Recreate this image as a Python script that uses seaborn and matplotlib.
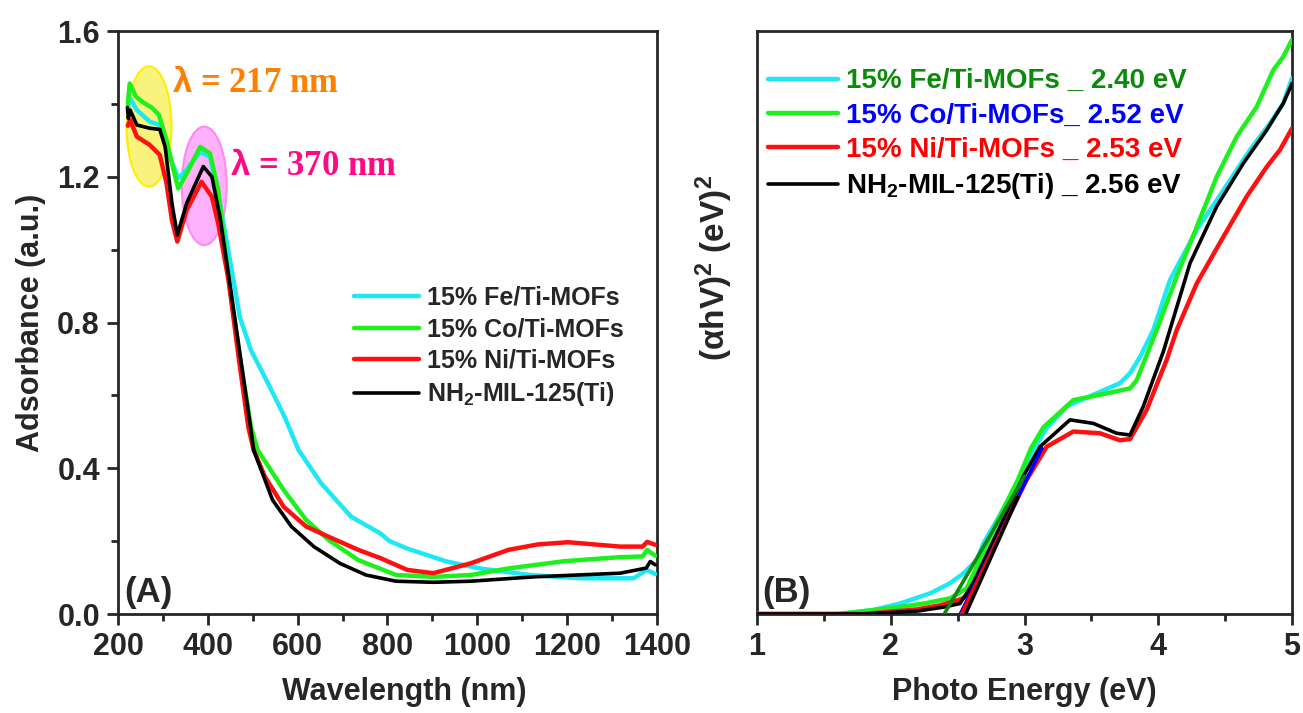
import matplotlib
matplotlib.use('Agg')
import matplotlib.pyplot as plt
import seaborn as sns
from matplotlib.patches import Ellipse
from matplotlib.ticker import MultipleLocator

# ---- panel A: UV-vis absorbance ----
fe_nm = [222, 227, 242, 271, 293, 308, 320, 334, 353, 383, 405, 427, 457, 471, 496,
         534, 571, 602, 652, 719, 783, 805, 843, 932, 1006, 1118, 1229, 1348, 1377, 1396]
fe_abs = [1.39, 1.415, 1.383, 1.351, 1.342, 1.292, 1.24, 1.196, 1.22, 1.268, 1.255, 1.127, 0.917, 0.816, 0.724,
          0.633, 0.541, 0.45, 0.359, 0.267, 0.222, 0.2, 0.18, 0.144, 0.125, 0.107, 0.098, 0.098, 0.121, 0.11]

co_nm = [222, 226, 240, 256, 275, 291, 308, 320, 334, 353, 383, 405, 423, 447, 472,
         496, 511, 569, 619, 669, 735, 819, 902, 985, 1069, 1194, 1318, 1368, 1378, 1396]
co_abs = [1.40, 1.456, 1.42, 1.404, 1.39, 1.37, 1.30, 1.237, 1.168, 1.209, 1.282, 1.264, 1.164, 0.91, 0.70,
          0.514, 0.45, 0.34, 0.258, 0.203, 0.148, 0.107, 0.102, 0.107, 0.125, 0.145, 0.156, 0.158, 0.176, 0.16]

ni_nm = [222, 227, 242, 271, 293, 308, 320, 332, 353, 386, 409, 423, 446, 468, 490, 502,
         527, 569, 619, 669, 735, 785, 844, 902, 985, 1069, 1135, 1202, 1318, 1368, 1378, 1396]
ni_abs = [1.34, 1.356, 1.31, 1.287, 1.26, 1.182, 1.081, 1.022, 1.109, 1.186, 1.145, 1.072, 0.917, 0.71, 0.514, 0.45,
          0.377, 0.294, 0.24, 0.212, 0.176, 0.153, 0.121, 0.112, 0.139, 0.176, 0.191, 0.197, 0.185, 0.185, 0.198, 0.19]

mil_nm = [221, 223, 227, 242, 271, 293, 305, 320, 332, 353, 390, 409, 427, 449, 472,
          495, 502, 544, 586, 636, 694, 752, 819, 902, 985, 1127, 1318, 1376, 1385, 1396]
mil_abs = [1.39, 1.36, 1.383, 1.342, 1.333, 1.33, 1.282, 1.128, 1.040, 1.128, 1.228, 1.2, 1.09, 0.907, 0.71,
           0.514, 0.45, 0.313, 0.24, 0.185, 0.139, 0.107, 0.09, 0.087, 0.09, 0.102, 0.112, 0.126, 0.144, 0.135]

# ---- panel B: Tauc plot (arbitrary units) ----
fe_ev = [1.0, 1.62, 1.87, 2.07, 2.30, 2.445, 2.545, 2.645, 2.692, 2.817, 2.942, 3.066, 3.166, 3.316,
         3.514, 3.714, 3.789, 3.864, 3.963, 4.088, 4.288, 4.487, 4.686, 4.836, 4.935, 5.0]
fe_tauc = [0.0, 0.0, 0.007, 0.018, 0.036, 0.053, 0.07, 0.093, 0.121, 0.17, 0.224, 0.281, 0.319, 0.356,
           0.376, 0.396, 0.413, 0.441, 0.487, 0.573, 0.659, 0.727, 0.796, 0.842, 0.876, 0.919]

co_ev = [1.0, 1.6, 2.0, 2.25, 2.445, 2.568, 2.65, 2.8, 2.95, 3.05, 3.141, 3.365, 3.564, 3.789,
         3.839, 3.988, 4.138, 4.288, 4.437, 4.587, 4.736, 4.86, 4.935, 5.0]
co_tauc = [0.0, 0.0, 0.01, 0.018, 0.027, 0.044, 0.085, 0.16, 0.23, 0.285, 0.32, 0.367, 0.376, 0.387,
           0.401, 0.487, 0.579, 0.664, 0.75, 0.819, 0.87, 0.933, 0.956, 0.985]

ni_ev = [1.0, 1.8, 2.2, 2.37, 2.52, 2.617, 2.817, 3.016, 3.166, 3.365, 3.564, 3.714, 3.789, 3.913,
         4.063, 4.138, 4.288, 4.487, 4.661, 4.811, 4.91, 5.0]
ni_tauc = [0.0, 0.0, 0.008, 0.015, 0.025, 0.035, 0.138, 0.23, 0.287, 0.313, 0.31, 0.298, 0.30, 0.35,
           0.436, 0.487, 0.567, 0.647, 0.716, 0.767, 0.796, 0.833]

mil_ev = [1.0, 1.8, 2.2, 2.4, 2.518, 2.617, 2.817, 2.991, 3.116, 3.34, 3.514, 3.689, 3.789, 3.888,
          4.038, 4.238, 4.437, 4.636, 4.811, 4.935, 5.0]
mil_tauc = [0.0, 0.0, 0.005, 0.012, 0.018, 0.053, 0.15, 0.236, 0.287, 0.333, 0.327, 0.31, 0.307, 0.356,
            0.45, 0.602, 0.699, 0.773, 0.83, 0.876, 0.91]

# band-gap tangent lines: start on the x axis, end point along the edge
fit_start = [2.40, 2.52, 2.53, 2.56]
fit_end_ev = [3.0, 3.13, 2.95, 2.95]
fit_end_val = [0.236, 0.284, 0.2, 0.2]
fit_colors = ['#0b8a0b', '#0000ff', '#ff0000', '#000000']

labels_a = ['15% Fe/Ti-MOFs', '15% Co/Ti-MOFs', '15% Ni/Ti-MOFs', 'NH$_2$-MIL-125(Ti)']
labels_b = ['15% Fe/Ti-MOFs _ 2.40 eV', '15% Co/Ti-MOFs_ 2.52 eV',
            '15% Ni/Ti-MOFs _ 2.53 eV', 'NH$_2$-MIL-125(Ti) _ 2.56 eV']
line_colors = ['#1ee8f4', '#1ef01e', '#ff1010', '#000000']

sns.set_style('ticks')
plt.rcParams['font.family'] = ['Liberation Sans', 'DejaVu Sans']
plt.rcParams['font.weight'] = 'bold'
plt.rcParams['mathtext.fontset'] = 'custom'
plt.rcParams['mathtext.rm'] = 'Liberation Sans:bold'
plt.rcParams['mathtext.bf'] = 'Liberation Sans:bold'
plt.rcParams['mathtext.it'] = 'Liberation Sans:bold'
plt.rcParams['mathtext.default'] = 'bf'

fig = plt.figure(figsize=(13.03, 7.13), dpi=100)
ax1 = fig.add_axes([118 / 1303, 1 - 614 / 713, 539 / 1303, 583 / 713])
ax2 = fig.add_axes([757 / 1303, 1 - 614 / 713, 535 / 1303, 583 / 713])

# highlight ellipses behind the curves
ax1.add_patch(Ellipse((269, 1.338), 100, 0.33, facecolor='#f9f27c', edgecolor='#ffee00', lw=1.5, zorder=1))
ax1.add_patch(Ellipse((392, 1.175), 100, 0.325, facecolor='#ffb2fb', edgecolor='#ff88f5', lw=1.5, zorder=1))

series_a = [(fe_nm, fe_abs), (co_nm, co_abs), (ni_nm, ni_abs), (mil_nm, mil_abs)]
for (x, y), c, lab in zip(series_a, line_colors, labels_a):
    sns.lineplot(x=x, y=y, ax=ax1, color=c, lw=3.2 if c != '#000000' else 2.6, label=lab, zorder=3)

series_b = [(fe_ev, fe_tauc), (co_ev, co_tauc), (ni_ev, ni_tauc), (mil_ev, mil_tauc)]
for (x, y), c, lab in zip(series_b, line_colors, labels_b):
    sns.lineplot(x=x, y=y, ax=ax2, color=c, lw=3.2 if c != '#000000' else 2.6, label=lab, zorder=3)

for x0, x1, y1, c in zip(fit_start, fit_end_ev, fit_end_val, fit_colors):
    sns.lineplot(x=[x0, x1], y=[0, y1], ax=ax2, color=c, lw=2.6, zorder=4, legend=False)

ax1.text(320, 1.457, r'$\lambda$ = 217 nm', color='#ff8000', fontsize=25, fontweight='bold',
         family='Liberation Serif', va='center', ha='left')
ax1.text(449, 1.227, r'$\lambda$ = 370 nm', color='#ff0a84', fontsize=25, fontweight='bold',
         family='Liberation Serif', va='center', ha='left')

ax1.set_xlim(200, 1400)
ax1.set_ylim(0, 1.6)
ax1.xaxis.set_major_locator(MultipleLocator(200))
ax1.xaxis.set_minor_locator(MultipleLocator(100))
ax1.yaxis.set_major_locator(MultipleLocator(0.4))
ax1.yaxis.set_minor_locator(MultipleLocator(0.2))
ax1.yaxis.set_major_formatter(matplotlib.ticker.FormatStrFormatter('%.1f'))
ax1.set_xlabel('Wavelength (nm)', fontsize=22, fontweight='bold')
ax1.set_ylabel('Adsorbance (a.u.)', fontsize=22, fontweight='bold', labelpad=8)
ax1.xaxis.set_label_coords(0.532, -0.108)

ax2.set_xlim(1, 5)
ax2.set_ylim(0, 1.0)
ax2.xaxis.set_major_locator(MultipleLocator(1))
ax2.xaxis.set_minor_locator(MultipleLocator(0.5))
ax2.set_yticks([])
ax2.set_xlabel('Photo Energy (eV)', fontsize=22, fontweight='bold')
ax2.xaxis.set_label_coords(0.5, -0.108)
ax2.set_ylabel('(\u03b1hV)$^2$ (eV)$^2$', fontsize=24, fontweight='bold')
ax2.yaxis.set_label_coords(-0.041, 0.593)

for ax in (ax1, ax2):
    for sp in ax.spines.values():
        sp.set_visible(True)
        sp.set_linewidth(2.0)
    ax.tick_params(which='major', length=8, width=2, labelsize=22, pad=5)
    ax.tick_params(which='minor', length=5, width=2)
    for t in ax.get_xticklabels() + ax.get_yticklabels():
        t.set_fontweight('bold')

ax1.text(0.012, 0.008, '(A)', transform=ax1.transAxes, fontsize=25, fontweight='bold', ha='left', va='bottom')
ax2.text(0.01, 0.008, '(B)', transform=ax2.transAxes, fontsize=25, fontweight='bold', ha='left', va='bottom')

leg1 = ax1.legend(loc='upper left', bbox_to_anchor=(0.42, 0.58), frameon=False, fontsize=18,
                  handlelength=2.6, handletextpad=0.3, labelspacing=0.3, borderaxespad=0)
for t in leg1.get_texts():
    t.set_fontweight('bold')

leg2 = ax2.legend(loc='upper left', bbox_to_anchor=(0.0, 0.955), frameon=False, fontsize=20,
                  handlelength=2.5, handletextpad=0.3, labelspacing=0.3, borderaxespad=0)
for t, c in zip(leg2.get_texts(), fit_colors):
    t.set_fontweight('bold')
    t.set_color(c)

fig.savefig('out.png', dpi=100)
